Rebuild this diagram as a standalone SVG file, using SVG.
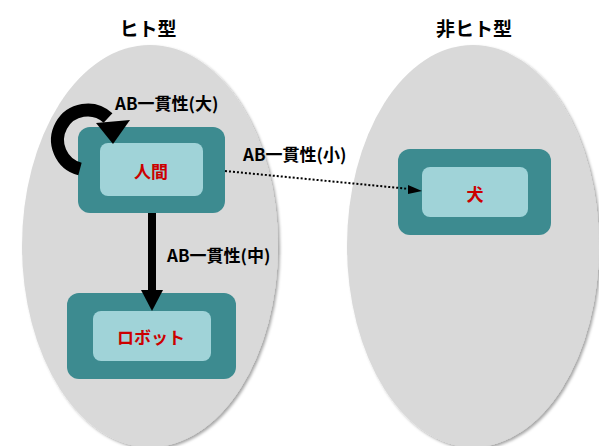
<svg xmlns="http://www.w3.org/2000/svg" width="599" height="446" viewBox="0 0 599 446">
<defs>
<filter id="sh" x="-10%" y="-10%" width="125%" height="125%">
<feDropShadow dx="2" dy="2" stdDeviation="1.5" flood-color="#000" flood-opacity="0.35"/>
</filter>
<style>
.grp{fill:#d9d9d9;filter:url(#sh)}
.outer{fill:#3d8b90}
.inner{fill:#a0d3d8}
.ntext{font-family:"Noto Sans CJK JP","Noto Sans",sans-serif;font-weight:bold;font-size:17px;fill:#cc0000;text-anchor:middle;dominant-baseline:central}
.title{font-family:"Noto Sans CJK JP","Noto Sans",sans-serif;font-weight:bold;font-size:19px;fill:#000;text-anchor:middle;dominant-baseline:central}
.lbl{font-family:"Noto Sans CJK JP","Noto Sans",sans-serif;font-weight:bold;font-size:17px;fill:#000;text-anchor:start;dominant-baseline:central}
</style>
</defs>
<rect width="599" height="446" fill="#fff"/>
<g id="group-human">
<ellipse class="grp" cx="150" cy="246" rx="128" ry="201"/>
<text class="title" x="148" y="27">ヒト型</text>
</g>
<g id="group-nonhuman">
<ellipse class="grp" cx="473" cy="246" rx="126" ry="201"/>
<text class="title" x="474" y="27">非ヒト型</text>
</g>
<g id="node-human">
<rect class="outer" x="78" y="127" width="147" height="86" rx="12"/>
<rect class="inner" x="100" y="143" width="103" height="53" rx="8"/>
<text class="ntext" x="151" y="170">人間</text>
</g>
<g id="node-robot">
<rect class="outer" x="67" y="293" width="169" height="86" rx="12"/>
<rect class="inner" x="93" y="311" width="118" height="50" rx="8"/>
<text class="ntext" x="151" y="336">ロボット</text>
</g>
<g id="node-dog">
<rect class="outer" x="398" y="149" width="153" height="86" rx="12"/>
<rect class="inner" x="422" y="167" width="106" height="50" rx="8"/>
<text class="ntext" x="475" y="193">犬</text>
</g>
<g id="connectors">
<path d="M80,169 A30,30 0 1 1 108,118" fill="none" stroke="#000" stroke-width="13"/>
<polygon points="96,123 130,120 113,144" fill="#000"/>
<line x1="152" y1="213" x2="152" y2="292" stroke="#000" stroke-width="8"/>
<polygon points="141,290 163,290 152,311" fill="#000"/>
<line x1="225" y1="171" x2="410" y2="189" stroke="#000" stroke-width="2" stroke-dasharray="2,2"/>
<polygon points="408,185 422,191 408,194" fill="#000"/>
<text class="lbl" x="115" y="102">AB一貫性(大)</text>
<text class="lbl" x="243" y="153">AB一貫性(小)</text>
<text class="lbl" x="167" y="254">AB一貫性(中)</text>
</g>
</svg>
